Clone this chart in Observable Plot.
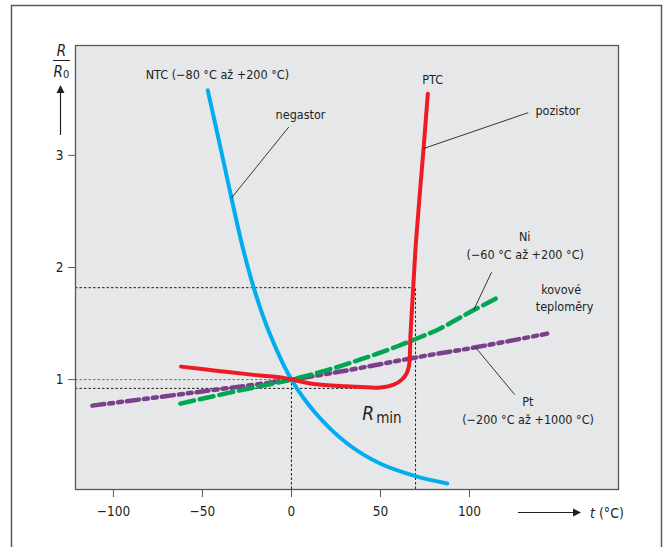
<!DOCTYPE html>
<html><head><meta charset="utf-8">
<script src="https://cdn.jsdelivr.net/npm/d3@7"></script>
<script src="https://cdn.jsdelivr.net/npm/@observablehq/plot@0.6"></script>
<style>
body{margin:0;background:#fff;}
#chart{width:667px;height:547px;overflow:hidden;}
</style></head><body><div id="chart"></div>
<script>
const FONT = '"Liberation Sans Narrow","DejaVu Sans Condensed","Arial Narrow",sans-serif';
const INK = "#231f20";

// axis
const xDomain = [-121.3, 183.7];
const yDomain = [0.02, 3.98];
const xTicks = [-100, -50, 0, 50, 100];
const yTicks = [1, 2, 3];

// NTC thermistor (negastor)
const ntcT = [-47.0, -40.3, -33.7, -27.7, -21.2, -13.7, 0, 12.5, 31.3, 50, 69.7, 87.5];
const ntcR = [3.58, 3.1, 2.62, 2.2, 1.82, 1.47, 1.0, 0.72, 0.43, 0.25, 0.14, 0.074];
// PTC thermistor (pozistor)
const ptcT = [-62, -40, -20, -6, 12.5, 31, 50, 57.5, 62, 64.5, 66, 66.9, 68.4, 70, 74.2, 76.6];
const ptcR = [1.116, 1.075, 1.04, 1.02, 0.96, 0.94, 0.93, 0.955, 1.0, 1.05, 1.12, 1.41, 1.82, 2.24, 3.06, 3.55];
// Ni metal thermometer
const niT = [-62.4, -30, 0, 20, 38.8, 60, 72.5, 82.8, 102.4, 115.2];
const niR = [0.786, 0.9, 1.0, 1.085, 1.18, 1.3, 1.38, 1.45, 1.62, 1.726];
// Pt metal thermometer
const ptT = [-111.8, -50, 0, 27.5, 72.5, 103.4, 143.6];
const ptR = [0.768, 0.895, 1.0, 1.072, 1.205, 1.288, 1.41];

// reference values
const refT0 = 0, refR0 = 1;
const rminT = 52.8, rminR = 0.922;
const ptcRefT = 69.7, ptcRefR = 1.82;

// annotation texts
const labelText = ["NTC (−80 °C až +200 °C)", "negastor", "PTC", "pozistor", "Ni", "(−60 °C až +200 °C)", "kovové", "teploměry", "Pt", "(−200 °C až +1000 °C)"];
const labelT = [-41.6, 5.1, 79.3, 149.6, 131, 131.3, 151.5, 153.4, 132.8, 132.9];
const labelR = [3.714, 3.363, 3.67, 3.396, 2.27, 2.113, 1.80, 1.646, 0.797, 0.64];

// leader lines
const leadT1 = [-1.5, 133, 112.4, 125.4];
const leadR1 = [3.253, 3.381, 1.958, 0.866];
const leadT2 = [-33.7, 74.0, 102.4, 103.4];
const leadR2 = [2.62, 3.06, 1.622, 1.288];

const rows = (ts, rs) => ts.map((t, i) => ({t, r: rs[i]}));
const labels = labelText.map((text, i) => ({text, t: labelT[i], r: labelR[i]}));
const leaders = leadT1.map((t1, i) => ({t1, r1: leadR1[i], t2: leadT2[i], r2: leadR2[i]}));

const dotted = {stroke: INK, strokeWidth: 1, strokeDasharray: "2.5,2"};
const FS = 12.5;

const plot = Plot.plot({
  width: 667, height: 547,
  marginLeft: 75, marginRight: 49, marginTop: 45, marginBottom: 58,
  x: {domain: xDomain},
  y: {domain: yDomain},
  style: {fontFamily: FONT, fontSize: FS + "px", color: INK, background: "transparent", overflow: "visible"},
  marks: [
    Plot.frame({fill: "#e6e7e9"}),
    Plot.ruleY([refR0], {x1: xDomain[0], x2: refT0, ...dotted, stroke: "#6d6e71"}),
    Plot.ruleX([refT0], {y1: yDomain[0], y2: refR0, ...dotted}),
    Plot.ruleY([rminR], {x1: xDomain[0], x2: rminT, ...dotted}),
    Plot.ruleY([ptcRefR], {x1: xDomain[0], x2: ptcRefT, ...dotted}),
    Plot.ruleX([ptcRefT], {y1: yDomain[0], y2: ptcRefR, ...dotted}),
    Plot.line(rows(ptT, ptR), {x: "t", y: "r", stroke: "#7b3f8c", strokeWidth: 4.5, curve: "catmull-rom", strokeDasharray: "12,5,4,5,4,5"}),
    Plot.line(rows(niT, niR), {x: "t", y: "r", stroke: "#00a651", strokeWidth: 4.5, curve: "catmull-rom", strokeDasharray: "14,6"}),
    Plot.line(rows(ntcT, ntcR), {x: "t", y: "r", stroke: "#00aeef", strokeWidth: 4, curve: "catmull-rom"}),
    Plot.line(rows(ptcT, ptcR), {x: "t", y: "r", stroke: "#ed1c24", strokeWidth: 4, curve: "catmull-rom"}),
    Plot.link(leaders, {x1: "t1", y1: "r1", x2: "t2", y2: "r2", stroke: INK, strokeWidth: 0.9}),
    Plot.text(labels, {x: "t", y: "r", text: "text", fill: INK, fontSize: FS}),
    Plot.text(["R"], {x: 39.8, y: 0.64, text: d => d, textAnchor: "start", lineAnchor: "bottom", fontSize: 19, fontStyle: "italic", fill: INK}),
    Plot.text(["min"], {x: 47.6, y: 0.615, text: d => d, textAnchor: "start", lineAnchor: "bottom", fontSize: 15, fill: INK}),
    Plot.frame({stroke: "#58595b", strokeWidth: 1.3}),
    Plot.axisX({ticks: xTicks, tickSize: 8, tickPadding: 9, label: null, stroke: "#58595b", fill: INK, fontSize: 13.5,
      tickFormat: d => d < 0 ? "−" + Math.abs(d) : String(d)}),
    Plot.axisY({ticks: yTicks, tickSize: 7, tickPadding: 5, label: null, stroke: "#58595b", fill: INK, fontSize: 13.5,
      tickFormat: d => String(d)})
  ]
});
document.getElementById("chart").appendChild(plot);

const svg = d3.select(plot);
// outer border
svg.append("rect").attr("x", 11.5).attr("y", 5.5).attr("width", 650).attr("height", 600)
  .attr("fill", "none").attr("stroke", "#58595b").attr("stroke-width", 1.5);
// y-axis label: R / R0 with arrow
const g = svg.append("g").attr("fill", INK).attr("font-family", FONT).attr("text-anchor", "start");
g.append("text").attr("x", 61.5).attr("y", 56).attr("text-anchor", "middle").attr("font-size", 15).attr("font-style", "italic").text("R");
g.append("line").attr("x1", 53).attr("x2", 70).attr("y1", 60.5).attr("y2", 60.5).attr("stroke", INK).attr("stroke-width", 1);
const r0 = g.append("text").attr("x", 53.5).attr("y", 77).attr("font-size", 15);
r0.append("tspan").attr("font-style", "italic").text("R");
r0.append("tspan").attr("font-size", 11).attr("dy", 1).text("0");
g.append("line").attr("x1", 60.5).attr("x2", 60.5).attr("y1", 135).attr("y2", 92).attr("stroke", INK).attr("stroke-width", 1.2);
g.append("path").attr("d", "M56.5,93 L64.5,93 L60.5,85 Z");
// x-axis label with arrow
g.append("line").attr("x1", 518).attr("x2", 574).attr("y1", 512.5).attr("y2", 512.5).attr("stroke", INK).attr("stroke-width", 1.2);
g.append("path").attr("d", "M573,508.5 L573,516.5 L581,512.5 Z");
const tl = g.append("text").attr("x", 590).attr("y", 517.5).attr("font-size", 14);
tl.append("tspan").attr("font-style", "italic").text("t");
tl.append("tspan").text(" (°C)");
</script>
</body></html>
